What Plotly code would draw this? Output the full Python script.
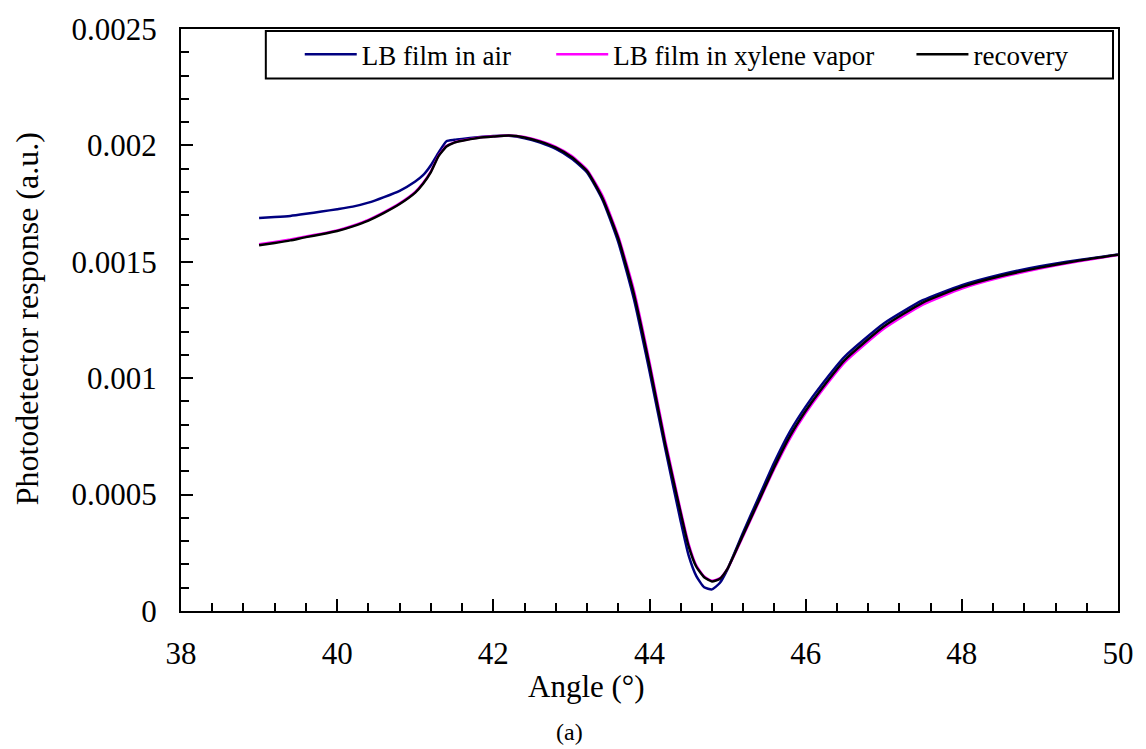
import plotly.graph_objects as go

# ---------------- data ----------------
angle = [39.0, 39.2, 39.4, 39.6, 39.8, 40.0, 40.2, 40.4, 40.6, 40.8,
         41.0, 41.1, 41.2, 41.3, 41.4, 41.5, 41.6, 41.8, 42.0, 42.2,
         42.4, 42.6, 42.8, 43.0, 43.2, 43.4, 43.6, 43.8, 44.0, 44.2,
         44.4, 44.5, 44.6, 44.7, 44.8, 44.9, 45.0, 45.2, 45.4, 45.6,
         45.8, 46.0, 46.2, 46.5, 47.0, 47.5, 48.0, 48.5, 49.0, 49.5, 50.0]

lb_air = [0.001688, 0.001692, 0.001697, 0.001706, 0.001716, 0.001726, 0.001737, 0.001754, 0.001778, 0.001805,
          0.001845, 0.001872, 0.001915, 0.001970, 0.002018, 0.002024, 0.002028, 0.002035, 0.002040, 0.002041,
          0.002031, 0.002012, 0.001985, 0.001944, 0.001884, 0.001765, 0.001585, 0.001340, 0.001030, 0.000700,
          0.000385, 0.000240, 0.000150, 0.000102, 0.000093, 0.000120, 0.000180, 0.000338, 0.000490, 0.000640,
          0.000772, 0.000878, 0.000970, 0.001093, 0.001235, 0.001335, 0.001400, 0.001446, 0.001481, 0.001508, 0.001531]

lb_xylene = [0.001575, 0.001585, 0.001596, 0.001609, 0.001621, 0.001635, 0.001655, 0.001680, 0.001713, 0.001751,
             0.001800, 0.001838, 0.001888, 0.001957, 0.001997, 0.002013, 0.002021, 0.002033, 0.002039, 0.002043,
             0.002036, 0.002019, 0.001994, 0.001956, 0.001895, 0.001782, 0.001610, 0.001378, 0.001070, 0.000735,
             0.000430, 0.000290, 0.000195, 0.000148, 0.000130, 0.000140, 0.000182, 0.000322, 0.000468, 0.000612,
             0.000742, 0.000850, 0.000943, 0.001068, 0.001212, 0.001316, 0.001385, 0.001433, 0.001471, 0.001502, 0.001529]

recovery = [0.001571, 0.001581, 0.001592, 0.001606, 0.001618, 0.001632, 0.001652, 0.001677, 0.001710, 0.001748,
            0.001797, 0.001835, 0.001885, 0.001955, 0.001995, 0.002012, 0.002020, 0.002032, 0.002038, 0.002042,
            0.002034, 0.002016, 0.001990, 0.001950, 0.001890, 0.001772, 0.001600, 0.001362, 0.001055, 0.000720,
            0.000420, 0.000280, 0.000190, 0.000145, 0.000127, 0.000138, 0.000182, 0.000328, 0.000474, 0.000620,
            0.000752, 0.000860, 0.000953, 0.001078, 0.001222, 0.001325, 0.001392, 0.001439, 0.001475, 0.001505, 0.001530]

series_names = ["LB film in air", "LB film in xylene vapor", "recovery"]
series_colors = ["#000080", "#FF00FF", "#000000"]

y_tickvals = [0, 0.0005, 0.001, 0.0015, 0.002, 0.0025]
y_ticktext = ["0", "0.0005", "0.001", "0.0015", "0.002", "0.0025"]
x_tickvals = [38, 40, 42, 44, 46, 48, 50]
x_ticktext = ["38", "40", "42", "44", "46", "48", "50"]

FONT = "Liberation Serif"

# ---------------- figure ----------------
fig = go.Figure()
legend_ids = ["legend", "legend2", "legend3"]
for ys, name, col, lg in zip([lb_air, lb_xylene, recovery], series_names, series_colors, legend_ids):
    fig.add_trace(go.Scatter(x=angle, y=ys, mode="lines", name=name,
                             line=dict(color=col, width=2.5, shape="spline", smoothing=0.5),
                             legend=lg, showlegend=True))

L, R, T, B = 181, 26, 23, 138
W, H = 1146, 749
pw = W - L - R
ph = H - T - B

def px_to_paper_x(px):
    return (px - L) / pw

def px_to_paper_y(py):
    return (H - B - py) / ph

leg_common = dict(orientation="h", font=dict(family=FONT, size=27, color="black"),
                  bgcolor="rgba(0,0,0,0)", borderwidth=0, itemwidth=52,
                  yanchor="middle", y=px_to_paper_y(49), xanchor="left")

axis_common = dict(showline=True, linecolor="black", linewidth=2, mirror=True,
                   ticks="inside", ticklen=12, tickwidth=2, tickcolor="black",
                   showgrid=False, zeroline=False,
                   tickfont=dict(family=FONT, size=31, color="black"))

fig.update_layout(
    width=W, height=H,
    margin=dict(l=L, r=R, t=T, b=B, pad=0),
    paper_bgcolor="white", plot_bgcolor="white",
    font=dict(family=FONT, color="black"),
    xaxis=dict(range=[38, 50], tickmode="array", tickvals=x_tickvals, ticktext=x_ticktext,
               ticklabelstandoff=14,
               minor=dict(ticks="inside", ticklen=8, tickwidth=2, tickcolor="black",
                          tick0=38, dtick=0.4, showgrid=False),
               **axis_common),
    yaxis=dict(range=[0, 0.0025], tickmode="array", tickvals=y_tickvals, ticktext=y_ticktext,
               ticklabelstandoff=16,
               minor=dict(ticks="inside", ticklen=8, tickwidth=2, tickcolor="black",
                          tick0=0, dtick=0.0001, showgrid=False),
               **axis_common),
    legend=dict(x=px_to_paper_x(300), **leg_common),
    legend2=dict(x=px_to_paper_x(552), **leg_common),
    legend3=dict(x=px_to_paper_x(913), **leg_common),
    showlegend=True,
)

# legend frame
fig.add_shape(type="rect", xref="paper", yref="paper",
              x0=px_to_paper_x(266), x1=px_to_paper_x(1115),
              y0=px_to_paper_y(73), y1=px_to_paper_y(25),
              line=dict(color="black", width=2), fillcolor="rgba(0,0,0,0)", layer="above")

# axis titles and caption
fig.add_annotation(text="Angle (°)", xref="paper", yref="paper",
                   x=px_to_paper_x(587), y=px_to_paper_y(687), xanchor="center", yanchor="middle",
                   showarrow=False, font=dict(family=FONT, size=31, color="black"))
fig.add_annotation(text="Photodetector response (a.u.)", xref="paper", yref="paper",
                   x=px_to_paper_x(27), y=px_to_paper_y(316), xanchor="center", yanchor="middle",
                   textangle=-90, showarrow=False, font=dict(family=FONT, size=32, color="black"))
fig.add_annotation(text="(a)", xref="paper", yref="paper",
                   x=px_to_paper_x(570), y=px_to_paper_y(733), xanchor="center", yanchor="middle",
                   showarrow=False, font=dict(family=FONT, size=24, color="black"))

fig.write_html("out.html")
